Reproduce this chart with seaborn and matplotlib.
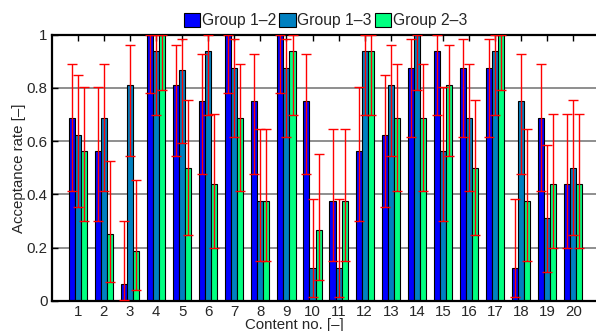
import matplotlib
matplotlib.use("Agg")
import matplotlib.pyplot as plt
from matplotlib.patches import Patch
import seaborn as sns
import pandas as pd
import numpy as np

contents = [str(i) for i in range(1, 21)]
groups = ["Group 1–2", "Group 1–3", "Group 2–3"]
colors = ["#0000FF", "#0080C0", "#00FF80"]

g12 = [0.6875, 0.5625, 0.0625, 1.0, 0.8125, 0.75, 1.0, 0.75, 1.0, 0.75,
       0.375, 0.5625, 0.625, 0.875, 0.9375, 0.875, 0.875, 0.125, 0.6875, 0.4375]
g13 = [0.625, 0.6875, 0.8125, 0.9375, 0.8667, 0.9375, 0.875, 0.375, 0.875, 0.125,
       0.125, 0.9375, 0.8125, 1.0, 0.5625, 0.6875, 0.9375, 0.75, 0.3125, 0.5]
g23 = [0.5625, 0.25, 0.1875, 1.0, 0.5, 0.4375, 0.6875, 0.375, 0.9375, 0.2667,
       0.375, 0.9375, 0.6875, 0.6875, 0.8125, 0.5, 1.0, 0.375, 0.4375, 0.4375]

lo12 = [0.413, 0.299, 0.002, 0.782, 0.544, 0.476, 0.782, 0.476, 0.782, 0.476,
        0.152, 0.299, 0.354, 0.617, 0.698, 0.617, 0.617, 0.016, 0.413, 0.198]
hi12 = [0.890, 0.802, 0.302, 1.0, 0.960, 0.927, 1.0, 0.927, 1.0, 0.927,
        0.646, 0.802, 0.848, 0.984, 0.998, 0.984, 0.984, 0.383, 0.890, 0.701]
lo13 = [0.354, 0.413, 0.544, 0.698, 0.595, 0.698, 0.617, 0.152, 0.617, 0.016,
        0.016, 0.698, 0.544, 0.792, 0.299, 0.413, 0.698, 0.476, 0.110, 0.247]
hi13 = [0.848, 0.890, 0.960, 0.998, 0.983, 0.998, 0.984, 0.646, 0.984, 0.383,
        0.383, 0.998, 0.960, 1.0, 0.802, 0.890, 0.998, 0.927, 0.587, 0.753]
lo23 = [0.299, 0.073, 0.040, 0.792, 0.247, 0.198, 0.413, 0.152, 0.698, 0.078,
        0.152, 0.698, 0.413, 0.413, 0.544, 0.247, 0.792, 0.152, 0.198, 0.198]
hi23 = [0.802, 0.524, 0.456, 1.0, 0.753, 0.701, 0.890, 0.646, 0.998, 0.551,
        0.646, 0.998, 0.890, 0.890, 0.960, 0.753, 1.0, 0.646, 0.701, 0.701]

yticks = [0, 0.2, 0.4, 0.6, 0.8, 1]
ytick_labels = ["0", "0.2", "0.4", "0.6", "0.8", "1"]

vals = [g12, g13, g23]
los = [lo12, lo13, lo23]
his = [hi12, hi13, hi23]

df = pd.DataFrame({
    "content": contents * 3,
    "group": [g for g in groups for _ in contents],
    "rate": g12 + g13 + g23,
})

sns.set_style("white")
plt.rcParams["font.family"] = ["Liberation Sans", "DejaVu Sans"]
FS = 10.8

fig = plt.figure(figsize=(5.96, 3.31), dpi=100)
W, H = 596, 331
left_px, right_px, top_px, bot_px = 51.7, 599.4, 34.7, 301.0
ax = fig.add_axes([left_px / W, 1 - bot_px / H, (right_px - left_px) / W, (bot_px - top_px) / H])

ax.set_axisbelow(True)
ax.yaxis.grid(True, color="#707070", linewidth=1.1)
ax.xaxis.grid(False)

sns.barplot(data=df, x="content", y="rate", hue="group", hue_order=groups,
            palette=colors, width=0.7, edgecolor="black", linewidth=0.8,
            errorbar=None, saturation=1, ax=ax, legend=False, zorder=2)

for cont, v, lo, hi in zip(ax.containers, vals, los, his):
    xs = [b.get_x() + b.get_width() / 2 for b in cont]
    v = np.array(v); lo = np.array(lo); hi = np.array(hi)
    ax.errorbar(xs, v, yerr=[v - lo, hi - v], fmt="none", ecolor="red",
                elinewidth=1.0, capsize=3.6, capthick=1.0, zorder=3)

ax.set_xlim(-1.0, 20.0)
ax.set_ylim(0, 1)
ax.set_yticks(yticks)
ax.set_yticklabels(ytick_labels, fontsize=FS)
ax.set_xticks(range(20))
ax.set_xticklabels(contents, fontsize=FS)
ax.tick_params(axis="both", direction="in", length=4, width=1.0, color="black",
               top=True, bottom=True, left=True, right=False, pad=3)
for s in ax.spines.values():
    s.set_visible(True)
    s.set_color("black")
    s.set_linewidth(1.6)

ax.set_xlabel("")
ax.set_ylabel("")
fig.text(294 / W, 1 - 318 / H, "Content no. [–]", ha="center", va="top", fontsize=FS)
fig.text(19 / W, 1 - 168 / H, "Acceptance rate [–]", ha="center", va="center",
         rotation=90, fontsize=FS)

handles = [Patch(facecolor=c, edgecolor="black", linewidth=0.8) for c in colors]
ax.legend(handles, groups, ncol=3, loc="lower center", bbox_to_anchor=(0.5, 1.0),
          frameon=False, fontsize=11.3, handlelength=1.05, handleheight=1.0,
          handletextpad=0.1, columnspacing=0.2, borderaxespad=0.2, borderpad=0.2)

fig.savefig("out.png", dpi=100)
